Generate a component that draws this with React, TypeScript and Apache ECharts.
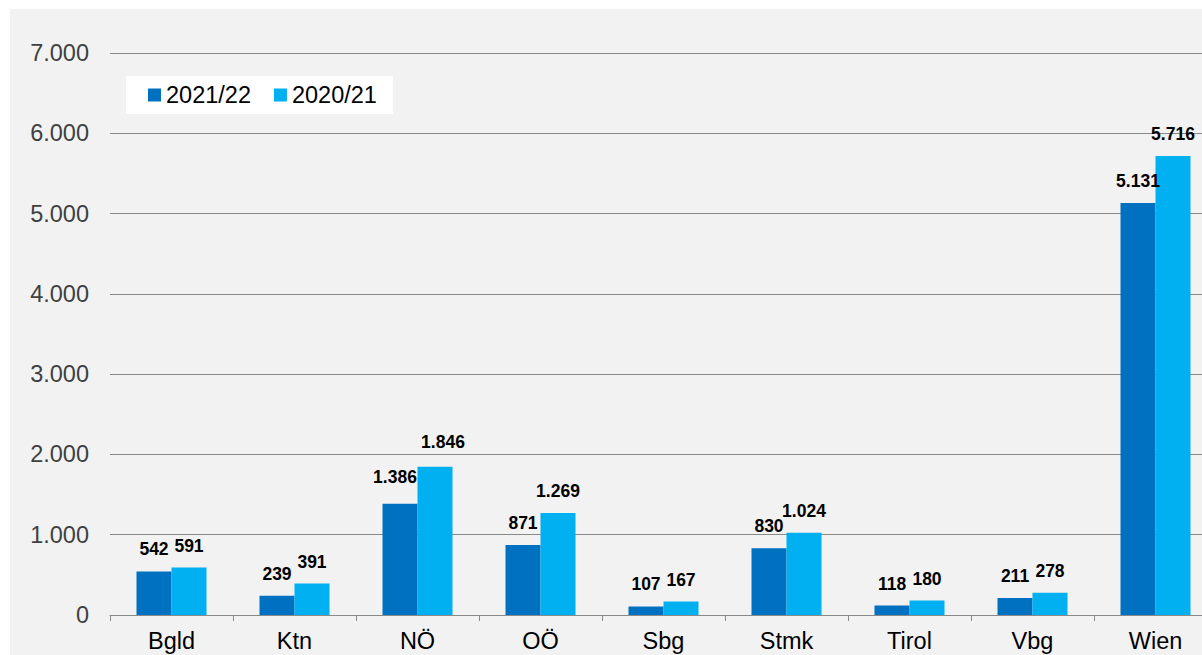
import React, { useEffect, useRef } from "react";
import * as echarts from "echarts";

const categories = ["Bgld", "Ktn", "NÖ", "OÖ", "Sbg", "Stmk", "Tirol", "Vbg", "Wien"];
const series2122 = [542, 239, 1386, 871, 107, 830, 118, 211, 5131];
const series2021 = [591, 391, 1846, 1269, 167, 1024, 180, 278, 5716];
const seriesNames = ["2021/22", "2020/21"];

const fmt = (v: number) => String(v).replace(/\B(?=(\d{3})+(?!\d))/g, ".");

const FONT = "Arial, 'Liberation Sans', Helvetica, sans-serif";

// manual label nudges (as in the reference) for the NÖ category
const nudge2122: Record<number, number[]> = { 2: [-5, -5] };
const nudge2021: Record<number, number[]> = { 2: [8, -3] };

const withNudges = (values: number[], nudges: Record<number, number[]>) =>
  values.map((v, i) => (nudges[i] ? { value: v, label: { offset: nudges[i] } } : v));

export default function App() {
  const ref = useRef<HTMLDivElement>(null);
  useEffect(() => {
    if (!ref.current) return;
    const chart = echarts.init(ref.current, undefined, { renderer: "svg" });
    const label = {
      show: true,
      position: "top",
      distance: 13,
      color: "#000",
      fontWeight: "bold",
      fontSize: 17.5,
      fontFamily: FONT,
      formatter: (p: any) => fmt(p.value),
    };
    chart.setOption({
      animation: false,
      backgroundColor: "#f2f2f2",
      textStyle: { fontFamily: FONT },
      grid: { left: 100, top: 44, width: 1107, height: 562, containLabel: false },
      legend: {
        left: 116,
        top: 67,
        backgroundColor: "#ffffff",
        padding: [7, 16, 7, 22],
        itemWidth: 13,
        itemHeight: 13,
        itemGap: 23,
        icon: "rect",
        textStyle: { fontSize: 23.5, color: "#000", fontFamily: FONT },
        data: seriesNames,
      },
      xAxis: {
        type: "category",
        data: categories,
        axisLine: { show: true, lineStyle: { color: "#898989", width: 1 } },
        axisTick: { show: true, length: 6, lineStyle: { color: "#898989" } },
        axisLabel: { fontSize: 23.5, color: "#000", margin: 14, fontFamily: FONT },
      },
      yAxis: {
        type: "value",
        min: 0,
        max: 7000,
        interval: 1000,
        axisLine: { show: false },
        axisTick: { show: false },
        axisLabel: {
          fontSize: 23.5,
          color: "#404040",
          margin: 21,
          fontFamily: FONT,
          formatter: (v: number) => fmt(v),
        },
        splitLine: { lineStyle: { color: "#898989", width: 1 } },
      },
      series: [
        {
          name: seriesNames[0],
          type: "bar",
          data: withNudges(series2122, nudge2122),
          barWidth: 35,
          barGap: "0%",
          itemStyle: { color: "#0070c0" },
          label,
        },
        {
          name: seriesNames[1],
          type: "bar",
          data: withNudges(series2021, nudge2021),
          barWidth: 35,
          barGap: "0%",
          itemStyle: { color: "#00b0f0" },
          label,
        },
      ],
    });
    return () => chart.dispose();
  }, []);
  return (
    <div
      style={{
        position: "fixed",
        left: 0,
        top: 0,
        width: "100vw",
        height: "100vh",
        background: "#ffffff",
        overflow: "hidden",
      }}
    >
      <div
        ref={ref}
        style={{ position: "absolute", left: 10, top: 9, width: 1230, height: 680 }}
      />
    </div>
  );
}
